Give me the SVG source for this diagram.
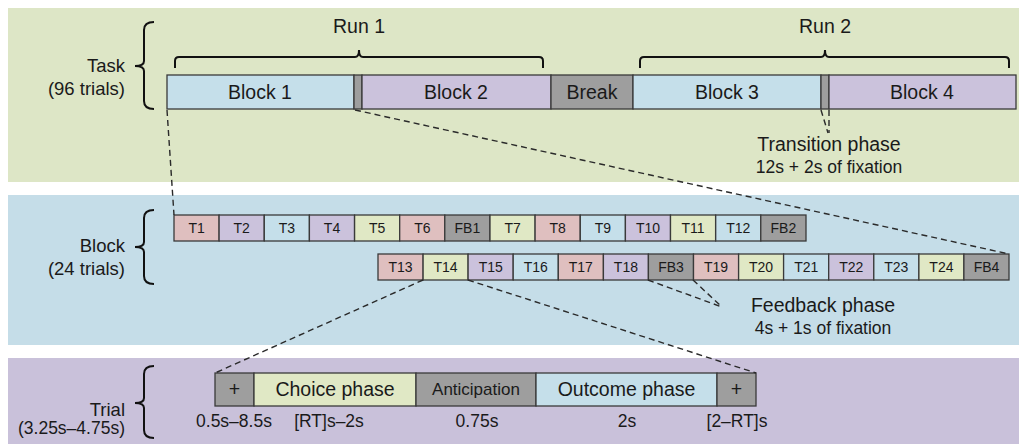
<svg xmlns="http://www.w3.org/2000/svg" width="1019" height="444" viewBox="0 0 1019 444">
<style>
text{font-family:"Liberation Sans",Arial,sans-serif;fill:#1a1a1a}
.big{font-size:19.5px}
.lab{font-size:18.5px}
.sm{font-size:17.5px}
.t{font-size:14px}
.c{text-anchor:middle}
.r{text-anchor:end}
.box{stroke:#3a3a3a;stroke-width:1.3}
.bl{fill:#c5dfea}.pu{fill:#cbc2dc}.gr{fill:#9e9e9e}.re{fill:#dfbfbf}.ye{fill:#e0e8c5}
.br{fill:none;stroke:#111;stroke-width:2}
.dash{fill:none;stroke:#2a2a2a;stroke-width:1.4;stroke-dasharray:6 4}
</style>
<rect width="1019" height="444" fill="#ffffff"/>
<rect x="8" y="8" width="1011" height="174" fill="#dde6c6"/>
<rect x="8" y="195" width="1011" height="150" fill="#c5dde8"/>
<rect x="8" y="358" width="1011" height="86" fill="#c9c1da"/>

<g id="task-label">
<text class="lab r" x="125" y="72">Task</text>
<text class="lab r" x="125" y="95">(96 trials)</text>
<path class="br" d="M154,22 Q144,22 144,30 L144,61 Q144,66 135,66 Q144,66 144,71 L144,101 Q144,109 154,109"/>
</g>
<g id="run1">
<text class="big c" x="359" y="33">Run 1</text>
<path class="br" d="M175,68 L175,61 Q175,57 179,57 L355,57 Q359,57 359,50 Q359,57 363,57 L539,57 Q543,57 543,61 L543,68"/>
</g>
<g id="run2">
<text class="big c" x="825" y="33">Run 2</text>
<path class="br" d="M640,68 L640,61 Q640,57 644,57 L821,57 Q825,57 825,50 Q825,57 829,57 L1005,57 Q1009,57 1009,61 L1009,68"/>
</g>
<g id="task-bar">
<g id="block1"><rect class="box bl" x="167" y="75" width="187" height="34"/><text class="big c" x="260" y="99">Block 1</text></g>
<g id="trans1"><rect class="box gr" x="354" y="75" width="8" height="34"/></g>
<g id="block2"><rect class="box pu" x="362" y="75" width="189" height="34"/><text class="big c" x="456" y="99">Block 2</text></g>
<g id="break"><rect class="box gr" x="551" y="75" width="82" height="34"/><text class="big c" x="592" y="99">Break</text></g>
<g id="block3"><rect class="box bl" x="633" y="75" width="188" height="34"/><text class="big c" x="727" y="99">Block 3</text></g>
<g id="trans2"><rect class="box gr" x="821" y="75" width="8" height="34"/></g>
<g id="block4"><rect class="box pu" x="829" y="75" width="187" height="34"/><text class="big c" x="922" y="99">Block 4</text></g>
</g>
<g id="transition-label">
<text class="big c" x="829" y="151">Transition phase</text>
<text class="sm c" x="829" y="173">12s + 2s of fixation</text>
</g>

<g id="block-label">
<text class="lab r" x="125" y="252">Block</text>
<text class="lab r" x="125" y="275">(24 trials)</text>
<path class="br" d="M154,210 Q144,210 144,218 L144,242 Q144,247 135,247 Q144,247 144,252 L144,276 Q144,284 154,284"/>
</g>
<g id="row1">
<g id="T1"><rect class="box re" x="174" y="215" width="45.1" height="26"/><text class="t c" x="196.6" y="233">T1</text></g>
<g id="T2"><rect class="box pu" x="219.1" y="215" width="45.1" height="26"/><text class="t c" x="241.7" y="233">T2</text></g>
<g id="T3"><rect class="box bl" x="264.3" y="215" width="45.1" height="26"/><text class="t c" x="286.8" y="233">T3</text></g>
<g id="T4"><rect class="box pu" x="309.4" y="215" width="45.1" height="26"/><text class="t c" x="332" y="233">T4</text></g>
<g id="T5"><rect class="box ye" x="354.6" y="215" width="45.1" height="26"/><text class="t c" x="377.1" y="233">T5</text></g>
<g id="T6"><rect class="box re" x="399.7" y="215" width="45.1" height="26"/><text class="t c" x="422.3" y="233">T6</text></g>
<g id="FB1"><rect class="box gr" x="444.8" y="215" width="45.1" height="26"/><text class="t c" x="467.4" y="233">FB1</text></g>
<g id="T7"><rect class="box ye" x="490" y="215" width="45.1" height="26"/><text class="t c" x="512.6" y="233">T7</text></g>
<g id="T8"><rect class="box re" x="535.1" y="215" width="45.1" height="26"/><text class="t c" x="557.7" y="233">T8</text></g>
<g id="T9"><rect class="box bl" x="580.3" y="215" width="45.1" height="26"/><text class="t c" x="602.8" y="233">T9</text></g>
<g id="T10"><rect class="box pu" x="625.4" y="215" width="45.1" height="26"/><text class="t c" x="648" y="233">T10</text></g>
<g id="T11"><rect class="box ye" x="670.5" y="215" width="45.1" height="26"/><text class="t c" x="693.1" y="233">T11</text></g>
<g id="T12"><rect class="box bl" x="715.7" y="215" width="45.1" height="26"/><text class="t c" x="738.3" y="233">T12</text></g>
<g id="FB2"><rect class="box gr" x="760.8" y="215" width="45.2" height="26"/><text class="t c" x="783.4" y="233">FB2</text></g>
</g>
<g id="row2">
<g id="T13"><rect class="box re" x="378" y="254" width="45.1" height="26"/><text class="t c" x="400.5" y="272">T13</text></g>
<g id="T14"><rect class="box ye" x="423.1" y="254" width="45" height="26"/><text class="t c" x="445.6" y="272">T14</text></g>
<g id="T15"><rect class="box pu" x="468.1" y="254" width="45.1" height="26"/><text class="t c" x="490.7" y="272">T15</text></g>
<g id="T16"><rect class="box bl" x="513.2" y="254" width="45.1" height="26"/><text class="t c" x="535.8" y="272">T16</text></g>
<g id="T17"><rect class="box re" x="558.3" y="254" width="45.1" height="26"/><text class="t c" x="580.8" y="272">T17</text></g>
<g id="T18"><rect class="box pu" x="603.4" y="254" width="45" height="26"/><text class="t c" x="625.9" y="272">T18</text></g>
<g id="FB3"><rect class="box gr" x="648.4" y="254" width="45.1" height="26"/><text class="t c" x="671" y="272">FB3</text></g>
<g id="T19"><rect class="box re" x="693.5" y="254" width="45.1" height="26"/><text class="t c" x="716" y="272">T19</text></g>
<g id="T20"><rect class="box ye" x="738.6" y="254" width="45" height="26"/><text class="t c" x="761.1" y="272">T20</text></g>
<g id="T21"><rect class="box bl" x="783.6" y="254" width="45.1" height="26"/><text class="t c" x="806.2" y="272">T21</text></g>
<g id="T22"><rect class="box pu" x="828.7" y="254" width="45.1" height="26"/><text class="t c" x="851.2" y="272">T22</text></g>
<g id="T23"><rect class="box bl" x="873.8" y="254" width="45.1" height="26"/><text class="t c" x="896.3" y="272">T23</text></g>
<g id="T24"><rect class="box ye" x="918.9" y="254" width="45" height="26"/><text class="t c" x="941.4" y="272">T24</text></g>
<g id="FB4"><rect class="box gr" x="963.9" y="254" width="45.1" height="26"/><text class="t c" x="986.5" y="272">FB4</text></g>
</g>
<g id="feedback-label">
<text class="big c" x="823" y="312">Feedback phase</text>
<text class="sm c" x="823" y="334">4s + 1s of fixation</text>
</g>

<g id="trial-label">
<text class="lab r" x="125" y="416">Trial</text>
<text class="sm r" x="125" y="434">(3.25s–4.75s)</text>
<path class="br" d="M154,366 Q144,366 144,374 L144,398 Q144,403 135,403 Q144,403 144,408 L144,430 Q144,438 154,438"/>
</g>
<g id="trial-bar">
<g id="fix1"><rect class="box gr" x="215" y="373" width="39" height="33"/><text class="big c" x="234.5" y="396">+</text></g>
<g id="choice"><rect class="box ye" x="254" y="373" width="162" height="33"/><text class="big c" x="335" y="396">Choice phase</text></g>
<g id="anticipation"><rect class="box gr" x="416" y="373" width="120" height="33"/><text class="c" style="font-size:17px" x="476" y="395">Anticipation</text></g>
<g id="outcome"><rect class="box bl" x="536" y="373" width="181" height="33"/><text class="big c" x="626.5" y="396">Outcome phase</text></g>
<g id="fix2"><rect class="box gr" x="717" y="373" width="39" height="33"/><text class="big c" x="736.5" y="396">+</text></g>
</g>
<g id="durations">
<text class="sm c" x="234" y="427">0.5s–8.5s</text>
<text class="sm c" x="329" y="427">[RT]s–2s</text>
<text class="sm c" x="477" y="427">0.75s</text>
<text class="sm c" x="627" y="427">2s</text>
<text class="sm c" x="737" y="427">[2–RT]s</text>
</g>

<g id="connectors">
<line class="dash" x1="167" y1="110" x2="174" y2="215"/>
<line class="dash" x1="355" y1="110" x2="1009" y2="254"/>
<line class="dash" x1="821" y1="110" x2="828" y2="133"/>
<line class="dash" x1="829" y1="110" x2="829" y2="133"/>
<line class="dash" x1="648" y1="280" x2="722" y2="307"/>
<line class="dash" x1="693" y1="280" x2="722" y2="307"/>
<line class="dash" x1="423" y1="280" x2="215" y2="373"/>
<line class="dash" x1="468" y1="280" x2="756" y2="373"/>
</g>
</svg>
